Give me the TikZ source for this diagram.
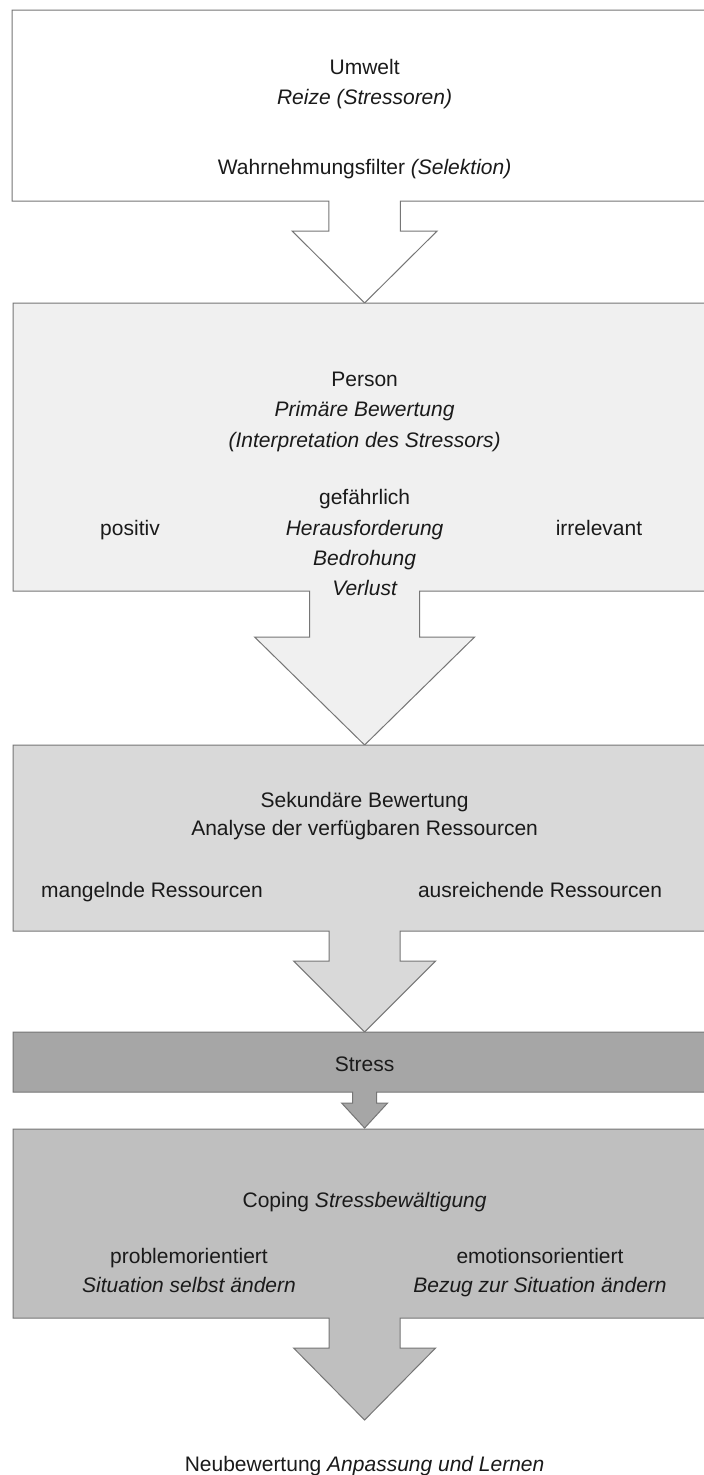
\documentclass[tikz,border=0pt]{standalone}
\usepackage{fontspec}
\setmainfont{Liberation Sans}
\definecolor{linegray}{HTML}{767676}
\definecolor{textcol}{HTML}{1A1A1A}
\definecolor{fillA}{HTML}{FFFFFF}
\definecolor{fillB}{HTML}{F0F0F0}
\definecolor{fillC}{HTML}{D9D9D9}
\definecolor{fillD}{HTML}{A6A6A6}
\definecolor{fillE}{HTML}{BFBFBF}
\begin{document}
\begin{tikzpicture}[x=1pt,y=-1pt,
  frame/.style={draw=linegray, line width=1pt, line join=miter},
  txt/.style={anchor=base, inner sep=0pt, font=\fontsize{21}{25}\selectfont, text=textcol}]
\useasboundingbox (0,0) rectangle (704,1475);
\fill[white] (0,0) rectangle (704,1475);
\clip (0,0) rectangle (704,1475);

% Box 1 (Umwelt) with block arrow
\path[frame, fill=fillA] (12,10) -- (712,10) -- (712,201) -- (400.4,201) -- (400.4,231)
  -- (437.1,231) -- (364.6,303) -- (292.1,231) -- (328.8,231) -- (328.8,201) -- (12,201) -- cycle;

% Box 2 (Person)
\path[frame, fill=fillB] (13,303) -- (712,303) -- (712,591) -- (419.6,591) -- (419.6,637)
  -- (474.6,637) -- (364.6,745) -- (254.6,637) -- (309.6,637) -- (309.6,591) -- (13,591) -- cycle;

% Box 3 (Sekundaere Bewertung)
\path[frame, fill=fillC] (13,745) -- (712,745) -- (712,931) -- (400.1,931) -- (400.1,961)
  -- (435.6,961) -- (364.6,1032) -- (293.6,961) -- (329.1,961) -- (329.1,931) -- (13,931) -- cycle;

% Box 4 (Stress)
\path[frame, fill=fillD] (13,1032) -- (712,1032) -- (712,1092) -- (376.6,1092) -- (376.6,1103)
  -- (387.6,1103) -- (364.6,1128) -- (341.6,1103) -- (352.6,1103) -- (352.6,1092) -- (13,1092) -- cycle;

% Box 5 (Coping)
\path[frame, fill=fillE] (13,1129) -- (712,1129) -- (712,1318) -- (400.1,1318) -- (400.1,1348)
  -- (435.6,1348) -- (364.6,1420) -- (293.6,1348) -- (329.1,1348) -- (329.1,1318) -- (13,1318) -- cycle;

% Texts
\node[txt] (umwelt) at (364.6,74) {Umwelt};
\node[txt] (reize) at (364.6,104) {\itshape Reize (Stressoren)};
\node[txt] (filter) at (364.6,174) {Wahrnehmungsfilter \textit{(Selektion)}};

\node[txt] (person) at (364.6,386) {Person};
\node[txt] (primaer) at (364.6,416) {\itshape Primäre Bewertung};
\node[txt] (interp) at (364.6,447) {\itshape (Interpretation des Stressors)};
\node[txt] (gefaehrlich) at (364.6,504) {gefährlich};
\node[txt] (heraus) at (364.6,535) {\itshape Herausforderung};
\node[txt] (bedrohung) at (364.6,565) {\itshape Bedrohung};
\node[txt] (verlust) at (364.6,595) {\itshape Verlust};
\node[txt] (positiv) at (130,535) {positiv};
\node[txt] (irrelevant) at (599,535) {irrelevant};

\node[txt] (sekundaer) at (364.6,807) {Sekundäre Bewertung};
\node[txt] (analyse) at (364.6,835) {Analyse der verfügbaren Ressourcen};
\node[txt] (mangelnd) at (152,897) {mangelnde Ressourcen};
\node[txt] (ausreichend) at (540,897) {ausreichende Ressourcen};

\node[txt] (stress) at (364.6,1071) {Stress};

\node[txt] (coping) at (364.6,1207) {Coping \textit{Stressbewältigung}};
\node[txt] (problem) at (189,1263) {problemorientiert};
\node[txt] (situation) at (189,1292) {\itshape Situation selbst ändern};
\node[txt] (emotion) at (540,1263) {emotionsorientiert};
\node[txt] (bezug) at (540,1292) {\itshape Bezug zur Situation ändern};

\node[txt] (neu) at (364.6,1471) {Neubewertung \textit{Anpassung und Lernen}};
\end{tikzpicture}
\end{document}
